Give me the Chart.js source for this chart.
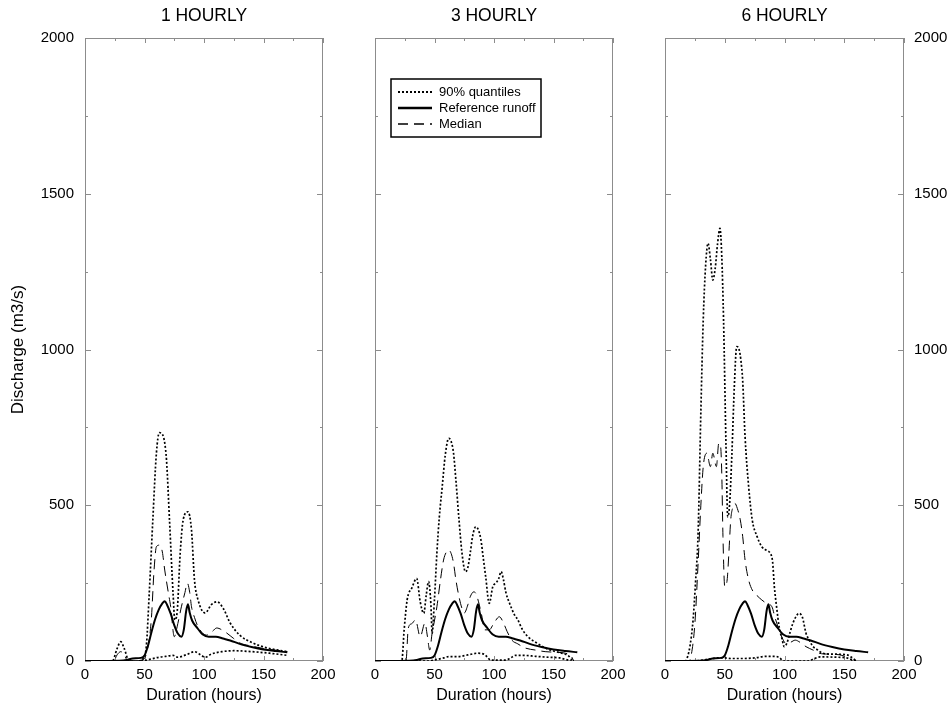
<!DOCTYPE html>
<html>
<head>
<meta charset="utf-8">
<title>Discharge quantiles</title>
<script src="https://cdn.jsdelivr.net/npm/chart.js@4.4.1/dist/chart.umd.min.js"></script>
<style>
  html, body { margin: 0; padding: 0; background: #fff; }
  #page { position: relative; width: 951px; height: 709px; overflow: hidden; }
  .panel { position: absolute; top: 0; height: 709px; }
</style>
</head>
<body>
<div id="page">
  <div class="panel" style="left:0;width:345px"><canvas id="p1"></canvas></div>
  <div class="panel" style="left:345px;width:300px"><canvas id="p2"></canvas></div>
  <div class="panel" style="left:635px;width:316px"><canvas id="p3"></canvas></div>
</div>
<script>
// axis ticks (labels only on every second one)
const xTicks = [0, 25, 50, 75, 100, 125, 150, 175, 200];
const yTicks = [0, 250, 500, 750, 1000, 1250, 1500, 1750, 2000];
const panelTitles = ["1 HOURLY", "3 HOURLY", "6 HOURLY"];

// reference runoff, same observed hydrograph in every panel
const refHours = [0, 20, 35, 40, 47, 50, 53, 56, 59, 62, 65, 67, 69, 72, 75, 78, 81, 83, 85, 86.5, 88, 90, 94, 99, 104, 110, 116, 122, 130, 140, 150, 160, 170];
const refFlow = [0, 0, 3, 8, 10, 18, 50, 95, 135, 165, 185, 192, 180, 152, 115, 88, 78, 100, 160, 182, 155, 130, 108, 85, 78, 78, 72, 66, 55, 45, 37, 32, 28];

// 1 hourly
const h1UpHours = [0, 23, 27, 30, 33, 37, 47, 49, 51.5, 54, 57, 60, 62.5, 65, 67, 68.5, 71, 74, 75.5, 77.5, 80, 82.5, 86.5, 89.5, 92, 95, 101, 106, 111, 116, 122, 130, 141, 153, 170];
const h1UpFlow = [0, 0, 40, 62, 40, 0, 0, 10, 46, 218, 453, 667, 733, 728, 700, 645, 453, 218, 132, 160, 346, 453, 479, 420, 260, 196, 154, 180, 190, 170, 122, 83, 58, 42, 30];
const h1LowHours = [0, 47, 55, 62, 68, 74, 78, 85, 92, 97, 101, 106, 115, 125, 140, 155, 170];
const h1LowFlow = [0, 0, 6, 12, 15, 18, 12, 20, 30, 20, 12, 22, 30, 33, 30, 25, 18];
const h1MedHours = [0, 24, 27, 30, 33, 36, 48, 52, 55.7, 58, 60, 62.7, 65, 67, 70, 72, 75, 78, 81, 84, 86, 88, 89.5, 92, 95, 102, 107, 110.7, 115, 119, 125, 130, 140, 150, 160, 170];
const h1MedFlow = [0, 0, 20, 30, 20, 0, 3, 30, 132, 290, 367, 372, 350, 292, 220, 174, 78, 120, 174, 220, 250, 220, 174, 140, 110, 83, 95, 106, 100, 90, 72, 58, 48, 40, 35, 30];

// 3 hourly
const h3UpHours = [0, 22.5, 24.5, 27, 31, 35, 38, 41, 43, 45, 47, 48, 50, 52, 54, 56.5, 59, 62, 64, 66, 68, 70.6, 73, 76, 78, 80, 82, 84.7, 87, 89, 91, 93, 96, 99, 101.7, 104, 106, 108, 110, 113, 117, 120, 124, 128.5, 135, 143, 150, 157, 163, 166];
const h3UpFlow = [0, 0, 100, 196, 235, 265, 190, 153, 210, 255, 180, 89, 200, 346, 460, 560, 660, 715, 705, 667, 580, 453, 350, 287, 300, 346, 400, 431, 420, 389, 330, 271, 185, 239, 250, 265, 287, 260, 220, 186, 150, 132, 100, 78, 60, 42, 32, 25, 15, 0];
const h3LowHours = [0, 45, 52, 58, 62, 70, 76, 80, 86, 92, 95, 97, 110, 114, 118, 125, 135, 146, 155, 160, 165];
const h3LowFlow = [0, 0, 5, 10, 14, 14, 18, 21, 25, 21, 10, 3, 3, 10, 18, 18, 15, 12, 10, 5, 0];
const h3MedHours = [0, 26, 28, 31, 34, 38, 42, 44, 46, 48, 49.6, 52, 55, 57.6, 60, 62, 64, 66, 68, 70.6, 73, 75, 78, 80, 83, 85, 87, 90, 92, 96, 100, 104.5, 108, 111, 115, 120, 126, 135, 143, 152, 160, 165, 167];
const h3MedFlow = [0, 0, 106, 120, 132, 78, 122, 80, 35, 90, 122, 174, 260, 324, 350, 356, 345, 314, 260, 206, 170, 154, 180, 206, 222, 215, 190, 140, 100, 100, 122, 142, 122, 95, 67, 55, 42, 35, 30, 28, 25, 15, 0];

// 6 hourly
const h6UpHours = [0, 17, 19, 21, 23.5, 25.5, 27.7, 30, 32, 34, 36, 38, 40, 42, 44, 46, 47.5, 49, 51, 52.5, 54, 56, 58, 60, 62, 63.5, 65, 67, 70, 73, 77, 81, 85, 88, 90, 91.5, 93.5, 95.5, 98, 99.7, 102, 104.5, 107, 110, 112, 115, 118, 121, 124, 128, 132, 140, 152, 156, 160];
const h6UpFlow = [0, 0, 15, 50, 132, 250, 410, 800, 1095, 1270, 1341, 1290, 1223, 1260, 1340, 1389, 1300, 1095, 700, 463, 500, 667, 880, 1009, 1000, 966, 900, 720, 560, 453, 400, 367, 355, 346, 320, 239, 170, 110, 70, 46, 57, 90, 121, 145, 153, 140, 89, 65, 46, 35, 25, 22, 20, 12, 0];
const h6LowHours = [0, 25, 35, 45, 50, 55, 65, 75, 85, 92, 96, 99, 120, 125, 130, 145, 152, 156, 160];
const h6LowFlow = [0, 0, 5, 10, 10, 8, 8, 10, 15, 15, 10, 0, 0, 8, 13, 12, 10, 5, 0];
const h6MedHours = [0, 20, 22, 25, 27.7, 30, 32, 35, 38, 40, 43, 45, 46.5, 47.5, 48.5, 50, 52, 53.5, 55, 56.5, 58.5, 60.5, 63, 65, 67, 70, 73, 77, 81, 85, 89.5, 92, 95.5, 98, 101, 105, 109, 113, 118, 124, 129, 137, 146, 152, 157];
const h6MedFlow = [0, 0, 20, 120, 314, 500, 624, 667, 624, 667, 624, 699, 690, 603, 400, 239, 260, 350, 453, 490, 506, 490, 453, 400, 324, 260, 228, 210, 196, 185, 174, 140, 100, 75, 57, 60, 67, 60, 46, 35, 25, 22, 20, 12, 0];

Chart.defaults.font.family = "'Liberation Sans', Arial, Helvetica, sans-serif";
Chart.defaults.color = "#000";

function pts(hours, flow) {
  return hours.map((h, i) => ({ x: h, y: flow[i] }));
}

function makeDatasets(upH, upF, lowH, lowF, medH, medF) {
  const common = { pointRadius: 0, fill: false, borderColor: "#000", cubicInterpolationMode: "monotone" };
  return [
    { ...common, label: "90% quantiles", data: pts(upH, upF), borderWidth: 1.7, borderDash: [2, 2] },
    { ...common, label: "90% quantiles", data: pts(lowH, lowF), borderWidth: 1.7, borderDash: [2, 2] },
    { ...common, label: "Reference runoff", data: pts(refHours, refFlow), borderWidth: 2 },
    { ...common, label: "Median", data: pts(medH, medF), borderWidth: 1, borderDash: [10, 6] },
  ];
}

// plot box + inward tick marks on all four sides
const frameTicks = {
  id: "frameTicks",
  beforeDatasetsDraw(chart) {
    const { ctx, chartArea: a, scales: { x, y } } = chart;
    ctx.save();
    ctx.strokeStyle = "#8c8c8c";
    ctx.lineWidth = 1;
    ctx.strokeRect(a.left + 0.5, a.top + 0.5, a.width - 1, a.height - 1);
    ctx.beginPath();
    xTicks.forEach((v) => {
      const px = Math.round(x.getPixelForValue(v)) + 0.5;
      const len = v % 50 === 0 ? 5 : 3;
      ctx.moveTo(px, a.bottom); ctx.lineTo(px, a.bottom - len);
      ctx.moveTo(px, a.top); ctx.lineTo(px, a.top + len);
    });
    yTicks.forEach((v) => {
      const py = Math.round(y.getPixelForValue(v)) + 0.5;
      const len = v % 500 === 0 ? 6 : 3;
      ctx.moveTo(a.left, py); ctx.lineTo(a.left + len, py);
      ctx.moveTo(a.right, py); ctx.lineTo(a.right - len, py);
    });
    ctx.stroke();
    ctx.restore();
  },
};

// boxed legend inside the middle panel
const boxLegend = {
  id: "boxLegend",
  afterDraw(chart) {
    const { ctx, chartArea: a } = chart;
    const bx = a.left + 16, by = a.top + 41, bw = 150, bh = 58;
    ctx.save();
    ctx.fillStyle = "#fff";
    ctx.fillRect(bx, by, bw, bh);
    ctx.strokeStyle = "#000";
    ctx.lineWidth = 1.5;
    ctx.strokeRect(bx, by, bw, bh);
    const seen = [];
    chart.data.datasets.forEach((ds) => {
      if (!seen.find((s) => s.label === ds.label)) seen.push(ds);
    });
    ctx.font = "13px 'Liberation Sans', Arial, sans-serif";
    ctx.textBaseline = "middle";
    seen.forEach((ds, i) => {
      const ry = by + 13 + i * 16;
      ctx.setLineDash(ds.borderDash || []);
      ctx.lineWidth = ds.borderWidth + 0.3;
      ctx.beginPath();
      ctx.moveTo(bx + 7, ry);
      ctx.lineTo(bx + 41, ry);
      ctx.stroke();
      ctx.setLineDash([]);
      ctx.fillStyle = "#000";
      ctx.fillText(ds.label, bx + 48, ry);
    });
    ctx.restore();
  },
};

function makeChart(id, title, datasets, yMode, pad, yWidth, extraPlugins) {
  return new Chart(document.getElementById(id), {
    type: "line",
    data: { datasets },
    options: {
      responsive: true,
      maintainAspectRatio: false,
      animation: false,
      layout: { padding: pad },
      plugins: {
        legend: { display: false },
        tooltip: { enabled: false },
        title: {
          display: true,
          text: title,
          fullSize: false,
          font: { size: 17.5, weight: "normal", lineHeight: 1.2 },
          color: "#000",
          padding: { top: 6, bottom: 11 },
        },
      },
      scales: {
        x: {
          type: "linear",
          min: 0,
          max: 200,
          grid: { display: false, drawTicks: false },
          border: { display: false },
          afterBuildTicks: (s) => { s.ticks = xTicks.map((v) => ({ value: v })); },
          ticks: {
            autoSkip: false,
            maxRotation: 0,
            padding: 5,
            font: { size: 15 },
            callback: (v) => (v % 50 === 0 ? v : ""),
          },
          title: {
            display: true,
            text: "Duration (hours)",
            font: { size: 16 },
            padding: { top: 0, bottom: 4 },
          },
          afterFit: (s) => { s.height = 48; },
        },
        y: {
          type: "linear",
          position: yMode === "right" ? "right" : "left",
          min: 0,
          max: 2000,
          grid: { display: false, drawTicks: false },
          border: { display: false },
          afterBuildTicks: (s) => { s.ticks = yTicks.map((v) => ({ value: v })); },
          ticks: {
            display: yMode !== "none",
            autoSkip: false,
            padding: yMode === "right" ? 10 : 11,
            font: { size: 15 },
            callback: (v) => (v % 500 === 0 ? v : ""),
          },
          title: {
            display: yMode === "left",
            text: "Discharge (m3/s)",
            font: { size: 17 },
            padding: { top: 8, bottom: 0 },
          },
          afterFit: (s) => { s.width = yWidth; },
        },
      },
    },
    plugins: [frameTicks].concat(extraPlugins || []),
  });
}

makeChart("p1", panelTitles[0],
  makeDatasets(h1UpHours, h1UpFlow, h1LowHours, h1LowFlow, h1MedHours, h1MedFlow),
  "left", { left: 0, right: 22, top: 0, bottom: 0 }, 85);
makeChart("p2", panelTitles[1],
  makeDatasets(h3UpHours, h3UpFlow, h3LowHours, h3LowFlow, h3MedHours, h3MedFlow),
  "none", { left: 30, right: 32, top: 0, bottom: 0 }, 0, [boxLegend]);
makeChart("p3", panelTitles[2],
  makeDatasets(h6UpHours, h6UpFlow, h6LowHours, h6LowFlow, h6MedHours, h6MedFlow),
  "right", { left: 30, right: 0, top: 0, bottom: 0 }, 47);
</script>
</body>
</html>
